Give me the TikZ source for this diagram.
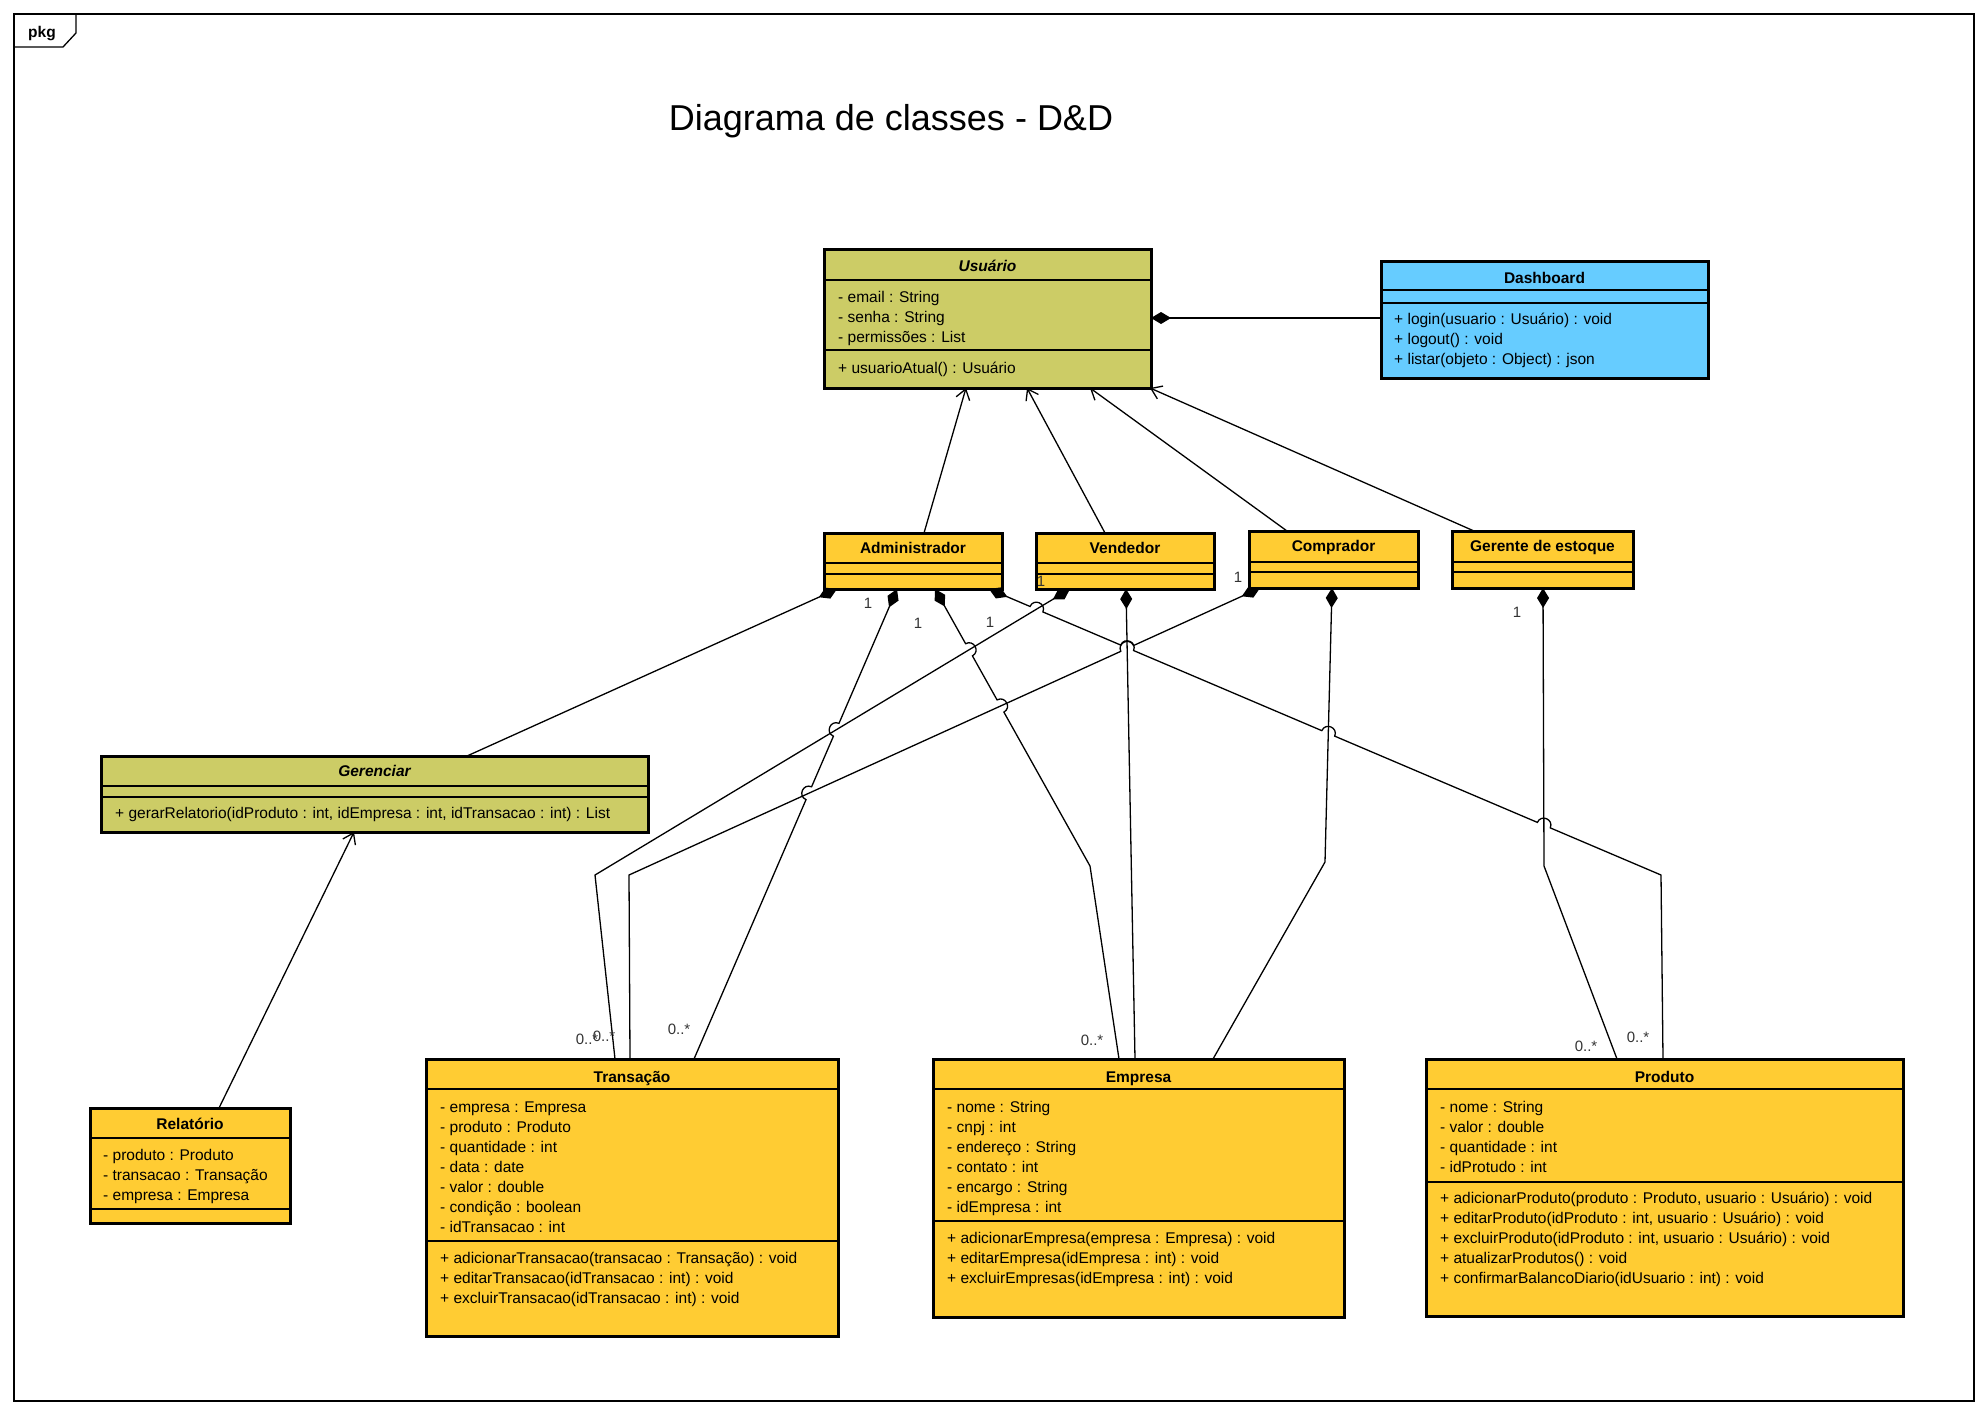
\documentclass[tikz,border=0pt]{standalone}
\usepackage{fontspec}
\setmainfont{Liberation Sans}
\usetikzlibrary{arrows.meta,calc,intersections}
\definecolor{clsolive}{HTML}{CCCC66}
\definecolor{clsyellow}{HTML}{FFCC33}
\definecolor{clsblue}{HTML}{66CCFF}
\newcommand\umlbox[8]{%
  \node[cls, fill=#6, minimum width=#4pt, minimum height=#5pt] (#1) at (#2,#3) {};
  \draw[sepline] ([yshift=-#7pt]#1.north west) -- ([yshift=-#7pt]#1.north east);
  \draw[sepline] ([yshift=-#8pt]#1.north west) -- ([yshift=-#8pt]#1.north east);
}
\newcommand\ulines[4]{%
  \foreach \mytext [count=\myi] in {#4} {\node[txt] (#1\myi) at (#2,{#3+20*(\myi-1)+5.5}) {\mytext};}%
}
\begin{document}
\begin{tikzpicture}[x=1pt,y=-1pt,
  cls/.style={draw, line width=3pt, anchor=north west, inner sep=0pt, outer sep=0pt},
  sepline/.style={line width=1.3pt},
  txt/.style={font=\fontsize{15.5}{20}\selectfont, inner sep=0pt, anchor=base west},
  ttl/.style={font=\fontsize{15.5}{20}\selectfont\bfseries, inner sep=0pt, anchor=base},
  mult/.style={font=\fontsize{15}{18}\selectfont, inner sep=0pt, text=black!80},
  assoc/.style={line width=1.3pt, -{Straight Barb[length=10pt,width=14pt,line width=1.3pt]}},
  comp/.style={line width=1.3pt, {Diamond[length=20pt,width=12pt]}-},
  hopl/.style={bend left=90, looseness=1.7},
  hopr/.style={bend right=90, looseness=1.7}]
\useasboundingbox (0,0) rectangle (1988,1414);
\fill[white] (0,0) rectangle (1988,1414);
% frame
\node[draw, line width=1.3pt, anchor=north west, inner sep=0pt, outer sep=0pt,
  minimum width=1960pt, minimum height=1387pt] (frame) at (14,14) {};
\draw[line width=1.3pt] ([xshift=62pt]frame.north west) -- ++(0,19) -- ++(-13,14) -- ++(-49,0);
\node[font=\fontsize{15.5}{18}\selectfont\bfseries, anchor=base, inner sep=0pt] (pkg) at (42,37) {pkg};
\node[font=\fontsize{36}{40}\selectfont, anchor=base, inner sep=0pt] (title) at (891,130) {Diagrama de classes - D\&D};
% boxes
\umlbox{usu}{824}{249}{327}{139}{clsolive}{31}{101}
\umlbox{dash}{1381}{261}{327}{117}{clsblue}{29}{42}
\umlbox{adm}{824}{533}{178}{56}{clsyellow}{30}{41}
\umlbox{ven}{1036}{533}{178}{56}{clsyellow}{30}{41}
\umlbox{com}{1249}{531}{169}{57}{clsyellow}{31}{41}
\umlbox{ger}{1452}{531}{181}{57}{clsyellow}{31}{41}
\umlbox{gen}{101}{756}{547}{76}{clsolive}{30}{41}
\umlbox{rel}{90}{1108}{200}{115}{clsyellow}{30}{101}
\umlbox{tra}{426}{1059}{412}{277}{clsyellow}{30}{182}
\umlbox{emp}{933}{1059}{411}{258}{clsyellow}{30}{162}
\umlbox{pro}{1426}{1059}{477}{257}{clsyellow}{30}{123}
% titles
\node[ttl, font=\fontsize{15.5}{20}\selectfont\bfseries\itshape] (usu-t) at ($(usu.north)+(0,22.5)$) {Usuário};
\node[ttl] (dash-t) at ($(dash.north)+(0,22)$) {Dashboard};
\node[ttl] (adm-t) at ($(adm.north)+(0,20.5)$) {Administrador};
\node[ttl] (ven-t) at ($(ven.north)+(0,20.5)$) {Vendedor};
\node[ttl] (com-t) at ($(com.north)+(0,20.5)$) {Comprador};
\node[ttl] (ger-t) at ($(ger.north)+(0,20.5)$) {Gerente de estoque};
\node[ttl, font=\fontsize{15.5}{20}\selectfont\bfseries\itshape] (gen-t) at ($(gen.north)+(0,20.5)$) {Gerenciar};
\node[ttl] (rel-t) at ($(rel.north)+(0,21.5)$) {Relatório};
\node[ttl] (tra-t) at ($(tra.north)+(0,23.5)$) {Transação};
\node[ttl] (emp-t) at ($(emp.north)+(0,23.5)$) {Empresa};
\node[ttl] (pro-t) at ($(pro.north)+(0,23.5)$) {Produto};
% compartments
\ulines{usua}{838}{297}{- email : String, - senha : String, - permissões : List}
\ulines{usum}{838}{368}{+ usuarioAtual() : Usuário}
\ulines{dashm}{1394}{319}{+ login(usuario : Usuário) : void, + logout() : void, + listar(objeto : Object) : json}
\ulines{genm}{115}{813}{{+ gerarRelatorio(idProduto : int, idEmpresa : int, idTransacao : int) : List}}
\ulines{rela}{103}{1155}{- produto : Produto, - transacao : Transação, - empresa : Empresa}
\ulines{traa}{440}{1107}{- empresa : Empresa, - produto : Produto, - quantidade : int, - data : date, - valor : double, - condição : boolean, - idTransacao : int}
\ulines{tram}{440}{1258}{+ adicionarTransacao(transacao : Transação) : void, + editarTransacao(idTransacao : int) : void, + excluirTransacao(idTransacao : int) : void}
\ulines{empa}{947}{1107}{- nome : String, - cnpj : int, - endereço : String, - contato : int, - encargo : String, - idEmpresa : int}
\ulines{empm}{947}{1238}{+ adicionarEmpresa(empresa : Empresa) : void, + editarEmpresa(idEmpresa : int) : void, + excluirEmpresas(idEmpresa : int) : void}
\ulines{proa}{1440}{1107}{- nome : String, - valor : double, - quantidade : int, - idProtudo : int}
\ulines{prom}{1440}{1198}{{+ adicionarProduto(produto : Produto, usuario : Usuário) : void}, {+ editarProduto(idProduto : int, usuario : Usuário) : void}, {+ excluirProduto(idProduto : int, usuario : Usuário) : void}, + atualizarProdutos() : void, + confirmarBalancoDiario(idUsuario : int) : void}
% connectors to Usuario
\draw[assoc] ([xshift=100pt]adm.north west) -- ([xshift=142pt]usu.south west);
\draw[assoc] ([xshift=69pt]ven.north west) -- ([xshift=203pt]usu.south west);
\draw[assoc] ([xshift=38pt]com.north west) -- ([xshift=266pt]usu.south west);
\draw[assoc] ([xshift=22pt]ger.north west) -- ([xshift=326pt]usu.south west);
\draw[comp] ([yshift=-69pt]usu.north east) -- ([yshift=-57pt]dash.north west);
\draw[assoc] ([xshift=129pt]rel.north west) -- ([xshift=253pt]gen.south west);
% endpoints
\coordinate (a1s) at ([xshift=13pt]adm.south west);
\coordinate (a2s) at ([xshift=73pt]adm.south west);
\coordinate (a3s) at ([xshift=111pt]adm.south west);
\coordinate (a4s) at ([xshift=165pt]adm.south west);
\coordinate (v1s) at ([xshift=34pt]ven.south west);
\coordinate (v2s) at ([xshift=90pt]ven.south west);
\coordinate (c1s) at ([xshift=11pt]com.south west);
\coordinate (c2s) at ([xshift=83pt]com.south west);
\coordinate (gs) at ([xshift=91pt]ger.south west);
\coordinate (a2e) at ([xshift=268pt]tra.north west);
\coordinate (v1e) at ([xshift=189pt]tra.north west);
\coordinate (c1e) at ([xshift=204pt]tra.north west);
\coordinate (a3e) at ([xshift=186pt]emp.north west);
\coordinate (v2e) at ([xshift=202pt]emp.north west);
\coordinate (c2e) at ([xshift=280pt]emp.north west);
\coordinate (ge) at ([xshift=191pt]pro.north west);
\coordinate (a4e) at ([xshift=237pt]pro.north west);
\coordinate (a3b) at (1090,866);
\coordinate (a4b) at (1661,875);
\coordinate (v1b) at (595,875);
\coordinate (c1b) at (629,875);
\coordinate (c2b) at (1325,862);
\coordinate (gb) at (1544,866);
% crossing computation
\path[name path=pv1] (v1s) -- (v1b);
\path[name path=pv2] (v2s) -- (v2e);
\path[name path=pc1] (c1s) -- (c1b);
\path[name path=pc2] (c2s) -- (c2b);
\path[name path=pg] (gs) -- (gb);
\path[name path=pa2] (a2s) -- (a2e);
\path[name path=pa3] (a3s) -- (a3b);
\path[name path=pa4] (a4s) -- (a4b);
\path[name intersections={of=pa2 and pv1, by=x21}];
\path[name intersections={of=pa2 and pc1, by=x22}];
\path[name intersections={of=pa3 and pv1, by=x31}];
\path[name intersections={of=pa3 and pc1, by=x32}];
\path[name intersections={of=pa4 and pv1, by=x41}];
\path[name intersections={of=pa4 and pv2, by=x42}];
\path[name intersections={of=pa4 and pc2, by=x43}];
\path[name intersections={of=pa4 and pg, by=x44}];
\path[name intersections={of=pc1 and pv2, by=xc}];
% compositions
\draw[comp] (a1s) -- ([xshift=366pt]gen.north west);
\draw[comp] (a2s) -- ($(x21)!7pt!(a2s)$) to[hopr] ($(x21)!7pt!(a2e)$)
  -- ($(x22)!7pt!(a2s)$) to[hopr] ($(x22)!7pt!(a2e)$) -- (a2e);
\draw[comp] (a3s) -- ($(x31)!7pt!(a3s)$) to[hopl] ($(x31)!7pt!(a3b)$)
  -- ($(x32)!7pt!(a3s)$) to[hopl] ($(x32)!7pt!(a3b)$) -- (a3b) -- (a3e);
\draw[comp] (a4s) -- ($(x41)!7pt!(a4s)$) to[hopl] ($(x41)!7pt!(a4b)$)
  -- ($(x42)!7pt!(a4s)$) to[hopl] ($(x42)!7pt!(a4b)$)
  -- ($(x43)!7pt!(a4s)$) to[hopl] ($(x43)!7pt!(a4b)$)
  -- ($(x44)!7pt!(a4s)$) to[hopl] ($(x44)!7pt!(a4b)$) -- (a4b) -- (a4e);
\draw[comp] (v1s) -- (v1b) -- (v1e);
\draw[comp] (v2s) -- (v2e);
\draw[comp] (c1s) -- ($(xc)!7pt!(c1s)$) to[hopr] ($(xc)!7pt!(c1b)$) -- (c1b) -- (c1e);
\draw[comp] (c2s) -- (c2b) -- (c2e);
\draw[comp] (gs) -- (gb) -- (ge);
% multiplicities
\node[mult] (m1) at (868,603) {1};
\node[mult] (m2) at (918,623) {1};
\node[mult] (m3) at (990,622) {1};
\node[mult] (m4) at (1041,581) {1};
\node[mult] (m5) at (1238,577) {1};
\node[mult] (m6) at (1517,612) {1};
\node[mult] (m7) at (587,1039) {0..*};
\node[mult] (m8) at (604,1036) {0..*};
\node[mult] (m9) at (679,1029) {0..*};
\node[mult] (m10) at (1092,1040) {0..*};
\node[mult] (m11) at (1586,1046) {0..*};
\node[mult] (m12) at (1638,1037) {0..*};
\end{tikzpicture}
\end{document}
